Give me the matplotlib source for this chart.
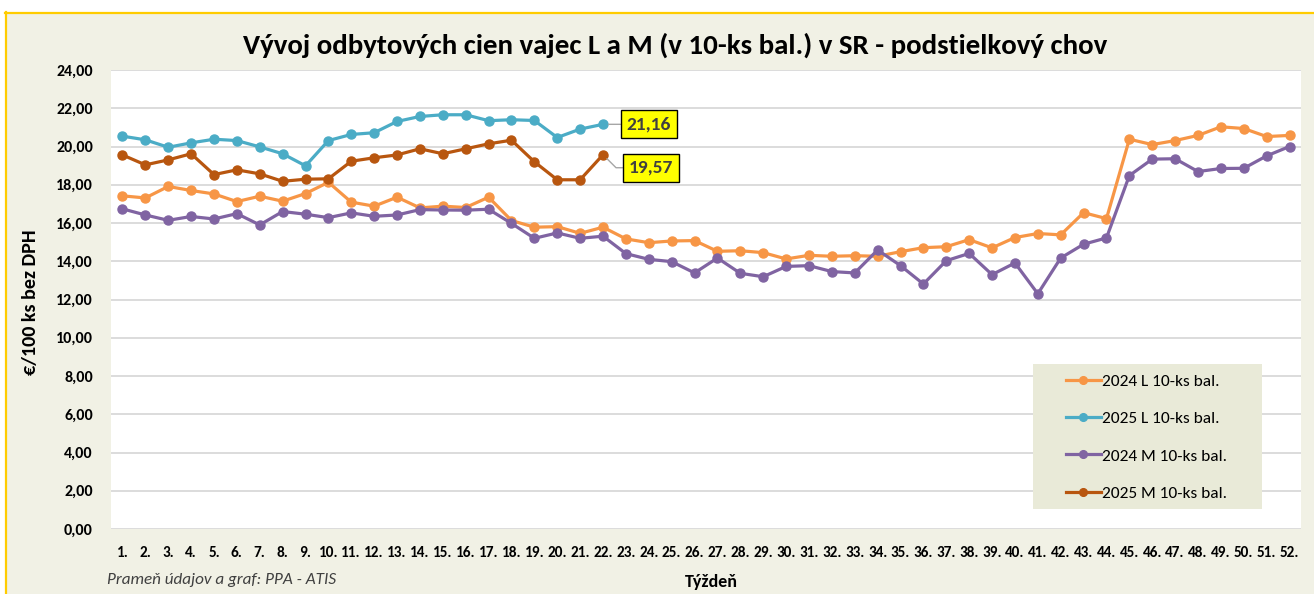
import matplotlib
matplotlib.use("Agg")
import matplotlib.pyplot as plt
from matplotlib.patches import Rectangle
from matplotlib.lines import Line2D

# data (odčítané z grafu)
weeks = list(range(1, 53))
week_labels = [f"{w}." for w in weeks]

l_2024 = [17.42, 17.31, 17.91, 17.70, 17.52, 17.12, 17.40, 17.14, 17.54, 18.13,
          17.09, 16.88, 17.35, 16.79, 16.88, 16.81, 17.35, 16.13, 15.78, 15.81,
          15.46, 15.78, 15.17, 14.97, 15.06, 15.08, 14.52, 14.55, 14.45, 14.12,
          14.31, 14.26, 14.29, 14.26, 14.50, 14.71, 14.76, 15.13, 14.70, 15.24,
          15.45, 15.38, 16.54, 16.23, 20.38, 20.10, 20.31, 20.58, 21.03, 20.94,
          20.52, 20.58]
l_2025 = [20.54, 20.35, 19.96, 20.19, 20.38, 20.31, 19.98, 19.62, 18.99, 20.31,
          20.63, 20.72, 21.31, 21.57, 21.66, 21.66, 21.35, 21.40, 21.36, 20.47,
          20.91, 21.16]
m_2024 = [16.74, 16.42, 16.14, 16.34, 16.21, 16.49, 15.90, 16.60, 16.46, 16.28,
          16.53, 16.35, 16.42, 16.70, 16.68, 16.67, 16.72, 15.98, 15.20, 15.48,
          15.20, 15.31, 14.40, 14.10, 13.98, 13.39, 14.17, 13.37, 13.19, 13.73,
          13.77, 13.46, 13.39, 14.59, 13.77, 12.81, 14.03, 14.41, 13.30, 13.91,
          12.30, 14.17, 14.89, 15.22, 18.48, 19.34, 19.36, 18.69, 18.85, 18.86,
          19.51, 20.00]
m_2025 = [19.56, 19.04, 19.30, 19.62, 18.53, 18.78, 18.57, 18.18, 18.29, 18.31,
          19.23, 19.41, 19.56, 19.88, 19.62, 19.88, 20.14, 20.33, 19.20, 18.26,
          18.26, 19.57]

series = [
    ("2024 L 10-ks bal.", l_2024, "#F79646"),
    ("2025 L 10-ks bal.", l_2025, "#4BACC6"),
    ("2024 M 10-ks bal.", m_2024, "#8064A2"),
    ("2025 M 10-ks bal.", m_2025, "#B8560F"),
]

plt.rcParams["font.family"] = ["Carlito", "Lato", "DejaVu Sans"]

W, H = 1314, 594
fig = plt.figure(figsize=(W / 100, H / 100), dpi=100)
fig.patch.set_facecolor("white")

# pozadie grafu + žltý okraj
bg = "#F1F1E5"
fig.patches.append(Rectangle((5 / W, 0), 1, 1 - 12 / H, transform=fig.transFigure,
                             facecolor=bg, edgecolor="none", zorder=-10))
fig.lines.append(Line2D([5.5 / W, 5.5 / W], [0, 1 - 12 / H], transform=fig.transFigure,
                        color="#FFCC00", lw=1.6))
fig.lines.append(Line2D([5 / W, 1], [1 - 12.5 / H, 1 - 12.5 / H], transform=fig.transFigure,
                        color="#FFCC00", lw=1.6))

ax = fig.add_axes([111 / W, (H - 529) / H, 1190 / W, 459 / H])
ax.set_facecolor("white")

for name, vals, col in series:
    ax.plot(weeks[:len(vals)], vals, color=col, lw=2.3, marker="o", ms=6.5,
            label=name, solid_joinstyle="round")

ax.set_xlim(0.5, 52.5)
ax.set_ylim(0, 24)
ax.set_yticks(range(0, 25, 2))
ax.set_yticklabels([f"{v},00" for v in range(0, 25, 2)], fontsize=11.5, fontweight="bold")
ax.set_xticks(weeks)
ax.set_xticklabels(week_labels, fontsize=11, fontweight="bold")
ax.tick_params(axis="both", length=0)
ax.tick_params(axis="y", pad=13)
ax.tick_params(axis="x", pad=12)
ax.grid(axis="y", color="#D9D9D9", lw=1.3)
ax.set_axisbelow(True)
for s in ax.spines.values():
    s.set_visible(False)

fig.text(31 / W, 1 - 302 / H, "€/100 ks bez DPH", rotation=90, ha="center", va="center",
         fontsize=14.5, fontweight="bold")
fig.text(711 / W, 1 - 582 / H, "Týždeň", ha="center", va="center",
         fontsize=13, fontweight="bold")
fig.text(675 / W, 1 - 45 / H, "Vývoj odbytových cien vajec L a M (v 10-ks bal.) v SR - podstielkový chov",
         ha="center", va="center", fontsize=20.8, fontweight="bold")
fig.text(107 / W, 1 - 580 / H, "Prameň údajov a graf: PPA - ATIS", ha="left", va="center",
         fontsize=12.3, style="italic", color="#404040")

# popisky posledných hodnôt
box = dict(boxstyle="square,pad=0.3", facecolor="#FFFF00", edgecolor="black", lw=1)
ax.annotate(f"{l_2025[-1]:.2f}".replace(".", ","), xy=(len(l_2025), l_2025[-1]),
            xytext=(46, 0), textcoords="offset pixels", ha="center", va="center",
            fontsize=14, fontweight="bold", color="#404040", bbox=box,
            arrowprops=dict(arrowstyle="-", color="#A6A6A6", lw=1, shrinkA=0, shrinkB=4))
ax.annotate(f"{m_2025[-1]:.2f}".replace(".", ","), xy=(len(m_2025), m_2025[-1]),
            xytext=(48, -13), textcoords="offset pixels", ha="center", va="center",
            fontsize=14, fontweight="bold", color="#404040", bbox=box,
            arrowprops=dict(arrowstyle="-", color="#A6A6A6", lw=1, shrinkA=0, shrinkB=4,
                            connectionstyle="angle,angleA=0,angleB=-45,rad=0"))

# legenda
ax.add_patch(Rectangle((1033 / W, 1 - 509 / H), 229 / W, 145 / H, transform=fig.transFigure,
                       facecolor="#E9EAD8", edgecolor="none", zorder=4, clip_on=False))
leg = ax.legend(loc="upper left", bbox_to_anchor=(1066 / W, 1 - 374 / H),
                bbox_transform=fig.transFigure, frameon=False, fontsize=12.5,
                handlelength=2.0, handletextpad=0.1, labelspacing=1.27, markerscale=0.85,
                borderpad=0, borderaxespad=0)
leg.set_zorder(6)

fig.savefig("out.png", dpi=100)
